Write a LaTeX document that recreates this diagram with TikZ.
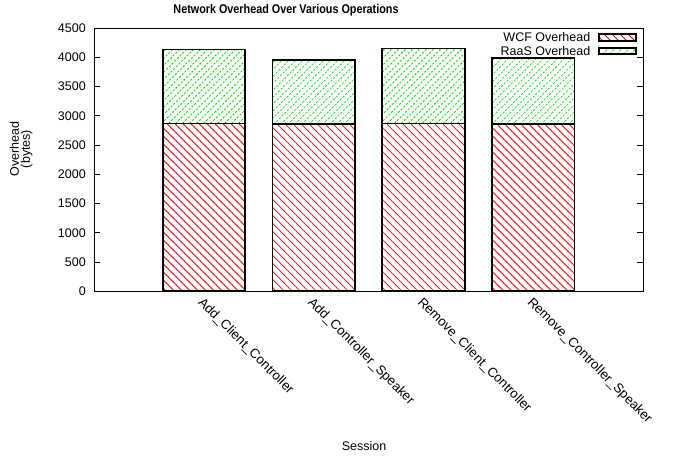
\documentclass[tikz,border=0pt]{standalone}
\usepackage{fontspec}
\setmainfont{Liberation Sans}
\definecolor{hred}{RGB}{255,0,0}
\definecolor{hgreen}{RGB}{0,235,0}
\tikzset{
  lbl/.style={font=\fontsize{12.5}{15}\selectfont, inner sep=0pt, text=black},
  rlbl/.style={font=\fontsize{13.2}{15}\selectfont, inner sep=0pt, text=black, rotate=-45, anchor=north west},
  redline/.style={hred, line width=0.8pt},
  greenline/.style={hgreen, line width=0.8pt, dash pattern=on 2.2pt off 1.6pt},
  barbox/.style={draw=black, line width=1.8pt},
  frame/.style={draw=black, line width=1pt},
  tickmark/.style={black, line width=0.9pt},
}
\newcommand\hatchred[4]{%
  \begin{scope}
    \clip (#1,#2) rectangle (#3,#4);
    \foreach \k in {0,...,45}{%
      \pgfmathsetmacro\cc{#1-#4+\k*8-4}
      \draw[redline] (\cc+#2,#2) -- (\cc+#4,#4);
    }
  \end{scope}}
\newcommand\hatchgreen[4]{%
  \begin{scope}
    \clip (#1,#2) rectangle (#3,#4);
    \foreach \k in {0,...,50}{%
      \pgfmathsetmacro\cc{#1+#2+\k*7-4}
      \draw[greenline] (\cc-#4,#4) -- (\cc-#2,#2);
    }
  \end{scope}}
\begin{document}
\begin{tikzpicture}[x=1pt,y=-1pt]
\useasboundingbox (0,0) rectangle (673,461);
\fill[white] (0,0) rectangle (673,461);

% title
\node[lbl, font=\bfseries\fontsize{10.8}{13}\selectfont, anchor=center] (title) at (286,10) {\scalebox{1}[1.17]{Network Overhead Over Various Operations}};

% bars: center, split y, top y
\foreach \cx/\sy/\ty in {203.8/123.4/49.4, 313.6/124.3/59.7, 423.4/123.4/48.5, 533.2/124.3/58.1}{
  \pgfmathsetmacro\xa{\cx-41.2}
  \pgfmathsetmacro\xb{\cx+41.2}
  \hatchred{\xa}{\sy}{\xb}{291.3}
  \hatchgreen{\xa}{\ty}{\xb}{\sy}
  \draw[barbox] (\xa,\sy) rectangle (\xb,291.3);
  \draw[barbox] (\xa,\ty) rectangle (\xb,\sy);
}

% frame and ticks
\draw[frame] (94,28) rectangle (643,291.3);
\foreach \v in {0,500,...,4500}{
  \pgfmathsetmacro\yy{291.3-0.05851*\v}
  \draw[tickmark] (94,\yy) -- (100,\yy);
  \draw[tickmark] (643,\yy) -- (637,\yy);
  \node[lbl, anchor=east] (yt\v) at (86,\yy) {\v};
}

% x tick labels
\node[rlbl] (xl1) at (204.3,296) {Add\_Client\_Controller};
\node[rlbl] (xl2) at (314.1,296) {Add\_Controller\_Speaker};
\node[rlbl] (xl3) at (423.9,296) {Remove\_Client\_Controller};
\node[rlbl] (xl4) at (533.7,296) {Remove\_Controller\_Speaker};

% axis labels
\node[lbl, font=\fontsize{12.5}{11}\selectfont, rotate=90, align=center] (ylab) at (21.2,149) {Overhead\\(bytes)};
\node[lbl, anchor=center] (xlab) at (364,446) {Session};

% legend
\node[lbl, anchor=base east] (leg1) at (590.5,41.7) {WCF Overhead};
\node[lbl, anchor=base east] (leg2) at (590.5,55) {RaaS Overhead};
\hatchred{599}{34.3}{636}{41}
\draw[barbox] (599,34.3) rectangle (636,41);
\hatchgreen{599}{47.7}{636}{54}
\draw[barbox] (599,47.7) rectangle (636,54);
\end{tikzpicture}
\end{document}
